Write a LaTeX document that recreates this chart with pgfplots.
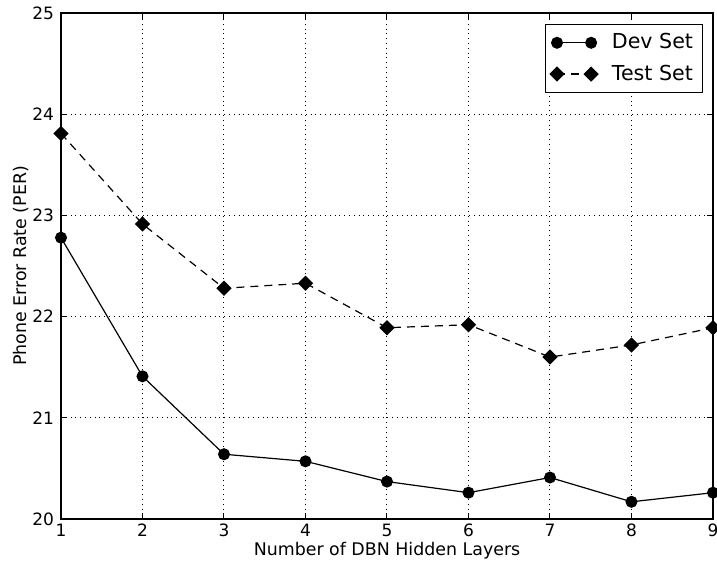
\documentclass[border=0pt]{standalone}
\usepackage{pgfplots}
\pgfplotsset{compat=1.18}
\usepackage{fontspec}
\setmainfont{DejaVu Sans}
\begin{document}
\begin{tikzpicture}
\begin{axis}[
  at={(0,0)}, anchor=south west,
  scale only axis, width=326pt, height=253pt,
  xmin=1, xmax=9, ymin=20, ymax=25,
  xtick={1,...,9}, ytick={20,...,25},
  /pgf/number format/assume math mode=true,
  tick label style={font=\fontsize{8.5}{10}\selectfont},
  label style={font=\fontsize{8.7}{10}\selectfont},
  xticklabel style={yshift=1pt},
  xlabel={Number of DBN Hidden Layers},
  ylabel={Phone Error Rate (PER)},
  xlabel style={yshift=4pt},
  ylabel style={yshift=-5pt},
  grid=major,
  major grid style={black, dotted, line width=0.5pt},
  tick align=inside, tick pos=both,
  major tick length=3pt,
  axis line style={line width=0.7pt},
  every tick/.style={black, line width=0.5pt},
  legend style={at={(0.984,0.978)}, anchor=north east, draw=black, line width=0.5pt, font=\fontsize{10.3}{13}\selectfont, inner xsep=2.5pt, inner ysep=2.5pt, row sep=2.5pt},
  legend cell align=left,
  legend image code/.code={\draw[#1] plot coordinates {(0cm,0cm) (0.6cm,0cm)};},
]
\addplot[black, line width=0.6pt, mark=*, mark size=2.7pt] coordinates {
(1,22.78) (2,21.41) (3,20.64) (4,20.57) (5,20.37) (6,20.26) (7,20.41) (8,20.17) (9,20.26)};
\addlegendentry{\hspace*{5pt}Dev Set}
\addplot[black, line width=0.6pt, dash pattern=on 4pt off 3pt, mark=square*, mark size=2.4pt, mark options={solid, rotate=45}] coordinates {
(1,23.81) (2,22.915) (3,22.28) (4,22.33) (5,21.89) (6,21.92) (7,21.60) (8,21.72) (9,21.89)};
\addlegendentry{\hspace*{5pt}Test Set}
\end{axis}
\pgfresetboundingbox
\useasboundingbox (-30.5pt,-22pt) rectangle (328pt,259.5pt);
\end{tikzpicture}
\end{document}
